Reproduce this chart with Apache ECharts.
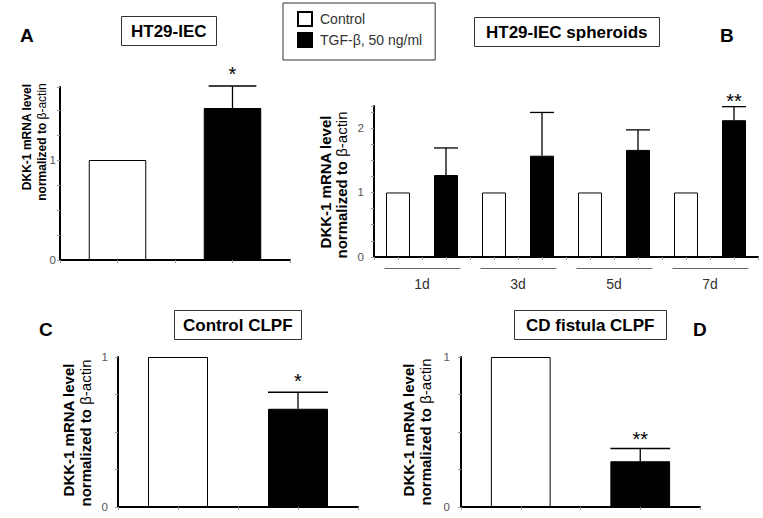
<!DOCTYPE html>
<html><head><meta charset="utf-8">
<script src="https://cdn.jsdelivr.net/npm/echarts@6/dist/echarts.min.js"></script>
<style>html,body{margin:0;padding:0;background:#fff}#c{width:763px;height:518px}</style>
</head><body><div id="c"></div>
<script>
// ---------- data ----------
const seriesNames = ['Control', 'TGF-β, 50 ng/ml'];
const yTickLabels = ['0', '1', '2'];

// Panel A: HT29-IEC
const aControl = [1.0];
const aTgf = [1.52];
const aTgfErr = [0.22];
const aStars = ['*'];

// Panel B: HT29-IEC spheroids
const bDays = ['1d', '3d', '5d', '7d'];
const bControl = [1.0, 1.0, 1.0, 1.0];
const bTgf = [1.27, 1.57, 1.66, 2.12];
const bTgfErr = [0.42, 0.67, 0.31, 0.21];
const bStars = ['', '', '', '**'];

// Panel C: Control CLPF
const cControl = [1.0];
const cTgf = [0.655];
const cTgfErr = [0.11];
const cStars = ['*'];

// Panel D: CD fistula CLPF
const dControl = [1.0];
const dTgf = [0.305];
const dTgfErr = [0.085];
const dStars = ['**'];

const panelTitles = ['HT29-IEC', 'HT29-IEC spheroids', 'Control CLPF', 'CD fistula CLPF'];
const panelLetters = ['A', 'B', 'C', 'D'];
const yNameLine1 = 'DKK-1 mRNA level';
const yNameLine2a = 'normalized to ';
const yNameLine2b = 'β-actin';

// ---------- helpers ----------
const FONT = '"Liberation Sans", Arial, sans-serif';

function pairCats(n) { const c = []; for (let i = 0; i < n; i++) { c.push('C' + i, 'T' + i); } return c; }
function ctrlData(vals) { const d = []; vals.forEach(v => { d.push(v, '-'); }); return d; }
function tgfData(vals) { const d = []; vals.forEach(v => { d.push('-', v); }); return d; }
function errData(means, errs) { return means.map((m, i) => [2 * i + 1, m, errs[i]]); }

function xAxes(grid, n) {
  const cats = pairCats(n);
  return [
    { gridIndex: grid, type: 'category', data: cats, position: 'bottom',
      axisLine: { show: true, lineStyle: { color: '#000', width: 2 } },
      axisTick: { show: true, alignWithLabel: true, length: 3, lineStyle: { color: '#999' } },
      axisLabel: { show: false } },
    { gridIndex: grid, type: 'category', data: cats, position: 'bottom',
      axisLine: { show: false },
      axisTick: { show: true, length: 3, lineStyle: { color: '#999' } },
      axisLabel: { show: false } }
  ];
}
function yAxis(grid, max, margin, pad) {
  return { gridIndex: grid, type: 'value', min: 0, max: max, interval: 0.25,
    axisLine: { show: true, lineStyle: { color: '#000', width: 2 } },
    axisTick: { show: true, length: 3, lineStyle: { color: '#999' } },
    splitLine: { show: false },
    axisLabel: { show: true, margin: margin, color: '#555', fontSize: 11.5, fontFamily: FONT,
      padding: [pad, 0, 0, 0],
      formatter: v => (yTickLabels.indexOf(String(v)) >= 0 ? String(v) : '') } };
}
function bars(xi, yi, ctrl, tgf) {
  return [
    { name: seriesNames[0], type: 'bar', xAxisIndex: xi, yAxisIndex: yi, barWidth: '50%', barGap: '-100%',
      itemStyle: { color: '#fff', borderColor: '#000', borderWidth: 1 }, data: ctrlData(ctrl) },
    { name: seriesNames[1], type: 'bar', xAxisIndex: xi, yAxisIndex: yi, barWidth: '50%', barGap: '-100%',
      itemStyle: { color: '#000', borderColor: '#000', borderWidth: 1 }, data: tgfData(tgf) }
  ];
}
function errSeries(xi, yi, means, errs, stars, capRatio, starOff) {
  return { type: 'custom', xAxisIndex: xi, yAxisIndex: yi, clip: false, silent: true,
    data: errData(means, errs),
    renderItem: function (params, api) {
      const x = api.value(0), m = api.value(1), e = api.value(2);
      const p0 = api.coord([x, m]);
      const p1 = api.coord([x, m + e]);
      const half = api.size([1, 0])[0] * capRatio / 2;
      const s = stars[params.dataIndex];
      const ch = [
        { type: 'line', shape: { x1: p0[0], y1: p0[1], x2: p1[0], y2: p1[1] }, style: { stroke: '#000', lineWidth: 1.3 } },
        { type: 'line', shape: { x1: p1[0] - half, y1: p1[1], x2: p1[0] + half, y2: p1[1] }, style: { stroke: '#000', lineWidth: 1.3 } }
      ];
      if (s) ch.push({ type: 'text', x: p1[0], y: p1[1] - starOff,
        style: { text: s, fontSize: 20, fontFamily: FONT, fill: '#000', align: 'center', verticalAlign: 'middle' } });
      return { type: 'group', children: ch };
    } };
}
function yName(cx1, cy1, cx2, cy2, size) {
  return [
    { type: 'text', x: cx1, y: cy1, rotation: Math.PI / 2,
      style: { text: yNameLine1, fontSize: size, fontWeight: 'bold', fontFamily: FONT, fill: '#000', align: 'center', verticalAlign: 'middle' } },
    { type: 'text', x: cx2, y: cy2, rotation: Math.PI / 2,
      style: { text: '{b|' + yNameLine2a + '}{r|' + yNameLine2b + '}', align: 'center', verticalAlign: 'middle',
        rich: { b: { fontSize: size, fontWeight: 'bold', fontFamily: FONT, fill: '#000' },
                r: { fontSize: size, fontWeight: 'normal', fontFamily: FONT, fill: '#000' } } } }
  ];
}
function boxTitle(text, left, top, padH) {
  return { text: text, left: left, top: top, padding: [6, padH, 6, padH],
    borderColor: '#333', borderWidth: 1,
    textStyle: { fontSize: 17, fontWeight: 'bold', fontFamily: FONT, color: '#000', lineHeight: 18 } };
}
function letter(text, left, top) {
  return { text: text, left: left, top: top, padding: 0,
    textStyle: { fontSize: 19, fontWeight: 'bold', fontFamily: FONT, color: '#000', lineHeight: 19 } };
}

// bracket + day labels for panel B
const bracketSeries = {
  type: 'custom', xAxisIndex: 2, yAxisIndex: 1, clip: false, silent: true,
  data: bDays.map((d, i) => [2 * i, 2 * i + 1, 0]),
  renderItem: function (params, api) {
    const a = api.coord([api.value(0), 0]);
    const b = api.coord([api.value(1), 0]);
    const w = api.size([1, 0])[0];
    return { type: 'group', children: [
      { type: 'line', shape: { x1: a[0] - 0.28 * w, y1: a[1] + 11.5, x2: b[0] + 0.3 * w, y2: a[1] + 11.5 },
        style: { stroke: '#666', lineWidth: 1.2 } },
      { type: 'text', x: (a[0] + b[0]) / 2, y: a[1] + 26.5,
        style: { text: bDays[params.dataIndex], fontSize: 14, fontFamily: FONT, fill: '#333', align: 'center', verticalAlign: 'middle' } }
    ] };
  }
};

const chart = echarts.init(document.getElementById('c'), null, { renderer: 'svg' });
chart.setOption({
  backgroundColor: '#fff',
  animation: false,
  title: [
    boxTitle(panelTitles[0], 121, 16, 10),
    boxTitle(panelTitles[1], 474, 17, 12),
    boxTitle(panelTitles[2], 174, 310, 9),
    boxTitle(panelTitles[3], 514, 310, 12),
    letter(panelLetters[0], 20, 26),
    letter(panelLetters[1], 720, 26),
    letter(panelLetters[2], 39, 320),
    letter(panelLetters[3], 693, 320)
  ],
  legend: {
    data: seriesNames, left: 283, top: 3, orient: 'vertical',
    icon: 'rect', itemWidth: 14, itemHeight: 14, itemGap: 5,
    padding: [8, 13, 12, 14], borderColor: '#333', borderWidth: 1,
    selectedMode: false,
    textStyle: { fontSize: 14, fontFamily: FONT, color: '#333', padding: [0, 0, 0, 3] }
  },
  grid: [
    { left: 60, top: 87, width: 230, height: 173 },
    { left: 374, top: 106, width: 384, height: 151 },
    { left: 118, top: 357, width: 240, height: 150 },
    { left: 461, top: 357, width: 239, height: 150 }
  ],
  xAxis: [].concat(xAxes(0, 1), xAxes(1, 4), xAxes(2, 1), xAxes(3, 1)),
  yAxis: [yAxis(0, 1.73, 4, 5), yAxis(1, 2.34, 10, 0), yAxis(2, 1, 10, 0), yAxis(3, 1, 11, 0)],
  series: [].concat(
    bars(0, 0, aControl, aTgf), [errSeries(0, 0, aTgf, aTgfErr, aStars, 0.415, 12)],
    bars(2, 1, bControl, bTgf), [errSeries(2, 1, bTgf, bTgfErr, bStars, 0.5, 6)], [bracketSeries],
    bars(4, 2, cControl, cTgf), [errSeries(4, 2, cTgf, cTgfErr, cStars, 0.5, 11)],
    bars(6, 3, dControl, dTgf), [errSeries(6, 3, dTgf, dTgfErr, dStars, 0.5, 10)]
  ),
  graphic: [].concat(
    yName(26.7, 137, 41.7, 142, 12),
    yName(325, 182, 341.7, 185, 15),
    yName(68.3, 430, 85, 433, 15),
    yName(408.3, 430, 425, 432, 15)
  )
});
</script></body></html>
